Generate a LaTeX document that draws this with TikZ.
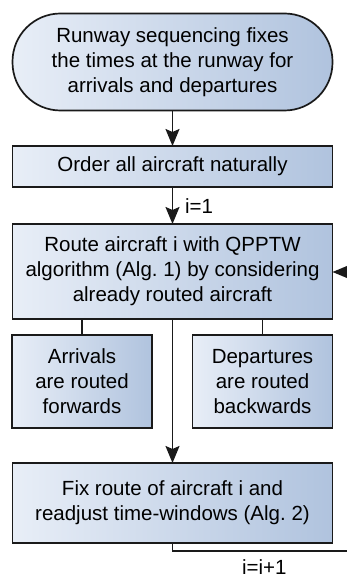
\documentclass[tikz,border=0pt]{standalone}
\usepackage{fontspec}
\setmainfont{Liberation Sans}
\usetikzlibrary{arrows.meta}
\definecolor{boxL}{HTML}{E8EEF7}
\definecolor{boxR}{HTML}{B0C3DE}
\definecolor{edge}{HTML}{1A1A1A}
\begin{document}
\begin{tikzpicture}[x=1pt,y=-1pt,
  every node/.style={inner sep=0pt,outer sep=0pt},
  box/.style={draw=edge,line width=1.7pt,left color=boxL,right color=boxR,
    align=center,font=\fontsize{20.5}{25}\selectfont},
  conn/.style={draw=edge,line width=1.7pt},
  arr/.style={conn,-{Stealth[length=17pt,width=14pt,inset=3pt]}},
  lbl/.style={font=\fontsize{20.5}{25}\selectfont}]
\useasboundingbox (0,0) rectangle (347,577);
\node[box,rounded corners=48pt,minimum width=320pt,minimum height=97pt] (term) at (172.5,62)
  {Runway sequencing fixes\\the times at the runway for\\arrivals and departures};
\node[box,minimum width=320pt,minimum height=41pt] (order) at (172.5,166.5) {Order all aircraft naturally};
\node[box,minimum width=320pt,minimum height=95pt] (route) at (172.5,271.5)
  {Route aircraft i with QPPTW\\algorithm (Alg.~1) by considering\\already routed aircraft};
\node[box,minimum width=140pt,minimum height=93pt] (arrv) at (82,381.5) {Arrivals\\are routed\\forwards};
\node[box,minimum width=140pt,minimum height=93pt] (dep) at (262.5,381.5) {Departures\\are routed\\backwards};
\node[box,minimum width=320pt,minimum height=80pt] (fix) at (172.5,503)
  {Fix route of aircraft i and\\readjust time-windows (Alg.~2)};
\node[lbl,anchor=base west] (i1) at (185,213) {i=1};
\node[lbl,anchor=base west] (inc) at (242,574) {i=i+1};
\coordinate (lb) at (172.5,551);
\coordinate (lr) at (348,551);
\coordinate (rin) at (348,272);
\draw[arr] (term) -- (order);
\draw[arr] (order) -- (route);
\draw[conn] (arrv.north) -- (arrv.north |- route.south);
\draw[conn] (dep.north) -- (dep.north |- route.south);
\draw[arr] (route) -- (fix);
\draw[conn] (fix.south) -- (lb) -- (lr);
\draw[arr] (rin) -- (route.east |- rin);
\end{tikzpicture}
\end{document}
